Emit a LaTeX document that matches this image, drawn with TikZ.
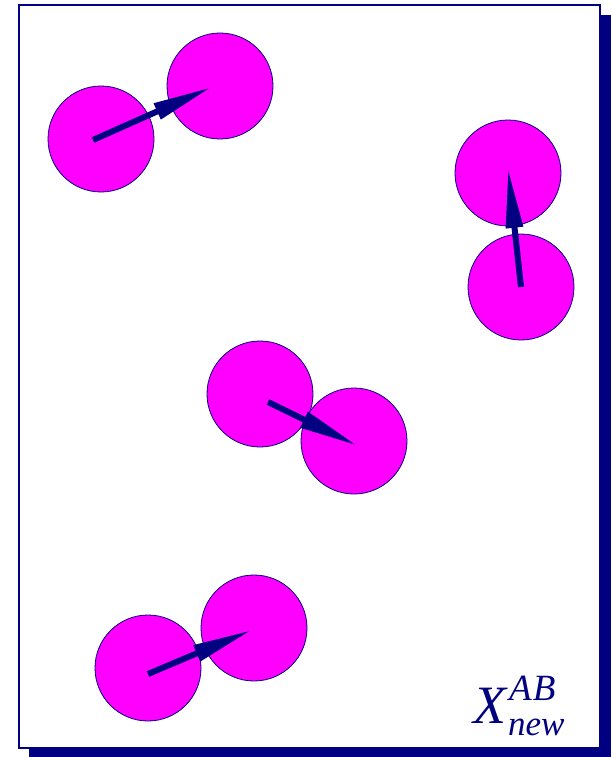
\documentclass[tikz,border=0pt]{standalone}
\usepackage{fontspec}
\setmainfont{Liberation Serif}
\usetikzlibrary{arrows.meta}
\definecolor{navyblue}{RGB}{0,0,128}
\definecolor{atompink}{RGB}{255,0,255}

\begin{document}
\begin{tikzpicture}[x=1pt, y=-1pt,
  atom/.style={circle, draw=navyblue, line width=0.8pt, fill=atompink, minimum size=106pt, inner sep=0pt},
  spin/.style={navyblue, line width=6pt, -{Triangle[length=60pt, width=16pt]}}
]
\useasboundingbox (0,0) rectangle (611,757);
% frame with its shadow
\fill[navyblue] (29,15) rectangle (611,757);
\draw[navyblue, line width=1.2pt, fill=white] (19,5) rectangle (600,748);
% upper left pair
\node[atom] (a1) at (101,139) {};
\node[atom] (b1) at (220,86) {};
\coordinate (s1) at (93,140);
\coordinate (t1) at (212,87);
\draw[spin] (s1) -- (t1);
% right pair
\node[atom] (a2) at (521,287) {};
\node[atom] (b2) at (508,173) {};
\coordinate (s2) at (521,287);
\coordinate (t2) at (508,168);
\draw[spin] (s2) -- (t2);
% middle pair
\node[atom] (a3) at (260,394) {};
\node[atom] (b3) at (354,441) {};
\coordinate (s3) at (268,402);
\coordinate (t3) at (358,446);
\draw[spin] (s3) -- (t3);
% lower pair
\node[atom] (a4) at (148,668) {};
\node[atom] (b4) at (254,628) {};
\coordinate (s4) at (148,674);
\coordinate (t4) at (252,630);
\draw[spin] (s4) -- (t4);
% label
\node[anchor=base west, navyblue, inner sep=0pt, font=\fontsize{54}{60}\selectfont\itshape] (lbl) at (473,723)
  {X\hspace{3pt}\makebox[0pt][l]{\raisebox{23pt}{\fontsize{37}{42}\selectfont A\hspace{1pt}B}}\hspace{-1pt}\raisebox{-12pt}{\fontsize{35}{40}\selectfont new}};
\end{tikzpicture}
\end{document}
